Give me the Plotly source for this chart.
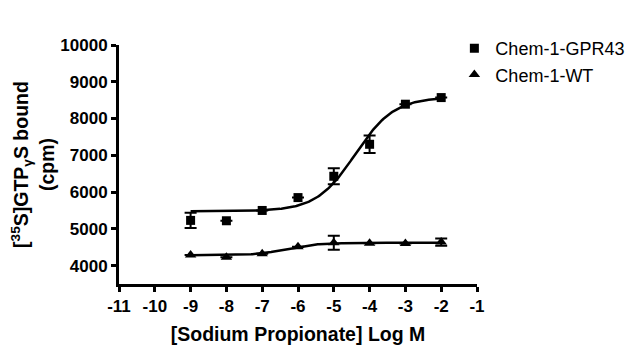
import numpy as np
import plotly.graph_objects as go

log_conc = [-9, -8, -7, -6, -5, -4, -3, -2]
gpr43 = [5230, 5220, 5500, 5850, 6430, 7300, 8390, 8570]
gpr43_err = [210, 0, 0, 0, 220, 240, 0, 0]
wt = [4290, 4230, 4320, 4510, 4620, 4610, 4600, 4640]
wt_err = [0, 0, 0, 0, 190, 0, 0, 100]

# fitted sigmoid parameters: bottom, top, logEC50, hill
gpr43_fit = [5480, 8580, -4.4, 0.8]
wt_fit = [4280, 4620, -6.3, 1.0]

x_ticks = [-11, -10, -9, -8, -7, -6, -5, -4, -3, -2, -1]
y_ticks = [4000, 5000, 6000, 7000, 8000, 9000, 10000]


def sigmoid(x, p):
    b, t, ec, h = p
    return b + (t - b) / (1 + 10 ** ((ec - x) * h))


xs = np.linspace(-9, -2, 200)

fig = go.Figure()
font = "Liberation Sans, Arial, sans-serif"

fig.add_trace(go.Scatter(x=xs, y=sigmoid(xs, gpr43_fit), mode="lines",
                         line=dict(color="black", width=2.5), showlegend=False, hoverinfo="skip"))
fig.add_trace(go.Scatter(x=xs, y=sigmoid(xs, wt_fit), mode="lines",
                         line=dict(color="black", width=2.5), showlegend=False, hoverinfo="skip"))
fig.add_trace(go.Scatter(x=log_conc, y=gpr43, mode="markers", name="Chem-1-GPR43",
                         marker=dict(symbol="square", size=9, color="black"),
                         error_y=dict(type="data", array=gpr43_err, color="black", thickness=2, width=6)))
fig.add_trace(go.Scatter(x=log_conc, y=wt, mode="markers", name="Chem-1-WT",
                         marker=dict(symbol="triangle-up", size=10, color="black"),
                         error_y=dict(type="data", array=wt_err, color="black", thickness=2, width=6)))

axis_common = dict(showline=True, linecolor="black", linewidth=3, ticks="outside",
                   ticklen=5, tickwidth=2.5, tickcolor="black", showgrid=False, zeroline=False,
                   tickfont=dict(family=font, size=17, color="black", weight="bold"))

fig.update_layout(
    width=640, height=364,
    margin=dict(l=111, r=171, t=37, b=88, autoexpand=False),
    paper_bgcolor="white", plot_bgcolor="white",
    font=dict(family=font, color="black"),
    xaxis=dict(range=[-11, -1], tickvals=x_ticks, ticktext=[str(v) for v in x_ticks],
               title=dict(text="<b>[Sodium Propionate] Log M</b>", font=dict(size=19.5), standoff=12),
               **axis_common),
    yaxis=dict(range=[3500, 10000], tickvals=y_ticks, ticktext=[str(v) for v in y_ticks],
               title=dict(text="<b>[<sup>35</sup>S]GTP<sub>γ</sub>S bound<br>(cpm)</b>", font=dict(size=19.5), standoff=3),
               **axis_common),
    legend=dict(x=0.934, y=1.063, xanchor="left", yanchor="top", font=dict(size=18, family=font),
                bgcolor="rgba(0,0,0,0)", itemwidth=32, tracegroupgap=0),
)

fig.write_html("out.html")
